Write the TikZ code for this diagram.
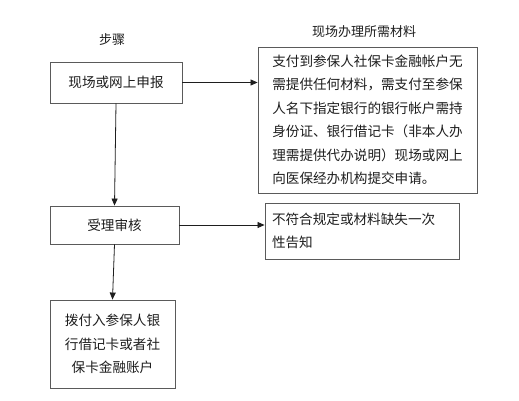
\documentclass[tikz,border=0pt]{standalone}
\usepackage{fontspec}
\newfontfamily\cjk{Noto Sans CJK SC}
\usetikzlibrary{arrows.meta,positioning}
\definecolor{edge}{RGB}{90,90,90}
\definecolor{ink}{RGB}{30,30,30}
\tikzset{
  >={Triangle[length=7pt,width=6pt]},
  frame/.style={draw=edge,line width=0.9pt,text=ink,inner sep=0pt,
    minimum width=#1,font=\cjk\fontsize{13.6}{23.5}\selectfont},
  caption/.style={text=ink,font=\cjk\fontsize{13}{15}\selectfont},
  flow/.style={->,draw=ink,line width=0.8pt},
}

\begin{document}
\begin{tikzpicture}[x=1pt,y=1pt]
  \useasboundingbox[fill=white] (0,0) rectangle (519,400);
  % column titles
  \node[caption] (steps) at (112,360) {步骤};
  \node[caption] (need) at (364,368) {现场办理所需材料};
  % left column
  \node[frame=132pt,minimum height=41pt] (apply) at (116,317.5) {现场或网上申报};
  \node[frame=129pt,minimum height=38pt] (review) at (114.5,175) {受理审核};
  \node[frame=125pt,minimum height=88pt,align=center] (pay) at (112.5,56)
    {拨付入参保人银\\行借记卡或者社\\保卡金融账户};
  % right column
  \node[frame=219pt,minimum height=146pt,align=left] (mat) at (367.5,280)
    {支付到参保人社保卡金融帐户无\\需提供任何材料，需支付至参保\\人名下指定银行的银行帐户需持\\身份证、银行借记卡（非本人办\\理需提供代办说明）现场或网上\\向医保经办机构提交申请。};
  \node[frame=194pt,minimum height=56pt,align=left,text width=180pt] (notice) at (362,169)
    {不符合规定或材料缺失一次\\性告知};
  % connectors
  \draw[flow] (apply.east) -- (apply.east -| mat.west);
  \draw[flow] (apply.south) -- (review.north);
  \draw[flow] (review.east) -- (review.east -| notice.west);
  \draw[flow] (review.south) -- (pay.north);
\end{tikzpicture}
\end{document}
